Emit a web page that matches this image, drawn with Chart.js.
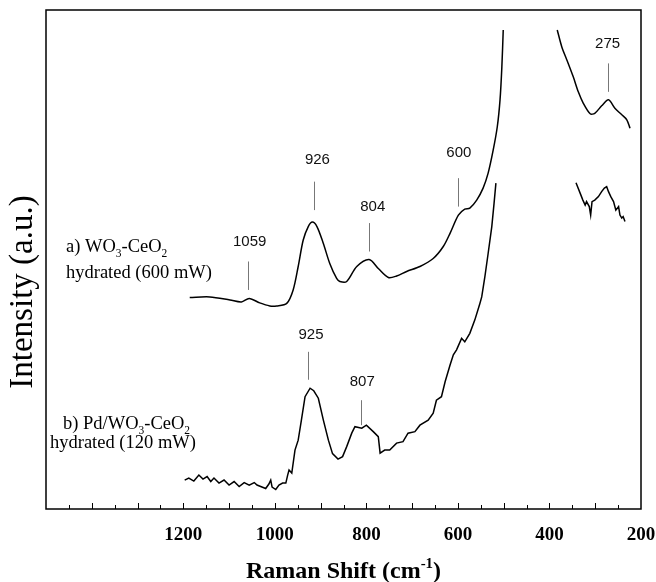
<!DOCTYPE html>
<html>
<head>
<meta charset="utf-8">
<title>Raman spectra</title>
<script src="https://cdn.jsdelivr.net/npm/chart.js@4.4.1/dist/chart.umd.min.js"></script>
<style>
  body { margin: 0; background: #fff; }
</style>
</head>
<body>
<canvas id="raman" width="656" height="582"></canvas>
<script>
// a) WO3-CeO2 hydrated (600 mW) - low-shift part cut off where it leaves the frame
const shiftA1 = [1186, 1142, 1098, 1073, 1056, 1033, 1011, 996, 974, 960, 949, 938, 927, 918, 908,
                 894, 880, 865, 858, 843, 821, 794, 774, 752, 734, 712, 683, 654, 632, 617,
                 599, 585, 574, 559, 545, 534, 523, 514, 508, 504, 501];
const intensityA1 = [42.4, 42.5, 41.9, 41.5, 42.2, 41.3, 40.7, 40.7, 41.2, 43.9, 48.6, 53.9, 56.6, 57.5, 56.6,
                     53.2, 49.2, 46.2, 45.6, 45.6, 48.6, 50.0, 48.2, 46.4, 46.7, 47.6, 48.6, 50.2, 52.6, 55.3,
                     58.9, 60.1, 60.3, 61.9, 64.3, 67.3, 71.9, 76.6, 82.0, 88.6, 96.0];
const shiftA2 = [383, 373, 362, 348, 337, 326, 311, 301, 286, 271, 257, 242, 231, 224];
const intensityA2 = [96.0, 92.6, 90.0, 86.6, 83.6, 81.3, 79.2, 79.3, 80.8, 82.0, 80.3, 79.0, 78.0, 76.3];

// b) Pd/WO3-CeO2 hydrated (120 mW)
const shiftB1 = [1197, 1188, 1177, 1166, 1157, 1148, 1140, 1133, 1122, 1111, 1100, 1089, 1078, 1067, 1056,
                 1045, 1039, 1031, 1020, 1013, 1009, 1006, 998, 991, 983, 976, 972, 969, 963, 956,
                 949, 942, 934, 923, 915, 905, 894, 883, 874, 862, 852, 843, 832, 825, 810,
                 800, 785, 774, 770, 760, 749, 734, 720, 709, 694, 683, 665, 654, 647, 636,
                 628, 617, 610, 603, 592, 585, 574, 563, 552, 548, 541, 534, 526, 521, 517];
const intensityB1 = [5.8, 6.2, 5.6, 6.8, 6.0, 6.5, 5.5, 6.2, 5.2, 5.8, 4.8, 5.5, 4.5, 5.3, 4.8,
                     5.3, 4.8, 4.5, 4.1, 5.0, 5.8, 4.4, 3.9, 4.8, 5.2, 5.2, 6.8, 7.8, 7.2, 11.8,
                     13.8, 17.8, 22.5, 24.2, 23.7, 22.2, 17.8, 13.8, 11.1, 10.0, 10.5, 12.5, 15.2, 16.5, 16.2,
                     16.8, 15.5, 14.5, 11.2, 11.8, 11.8, 13.2, 13.5, 15.2, 15.5, 16.8, 17.8, 19.2, 21.8, 22.5,
                     25.5, 28.9, 30.9, 31.9, 34.2, 33.5, 35.2, 37.9, 41.2, 42.5, 46.6, 51.2, 56.6, 61.3, 65.3];
const shiftB2 = [342, 333, 327, 322, 319, 313, 310, 307, 301, 293, 286, 280, 275, 271, 266,
                 260, 255, 249, 246, 242, 239, 235];
const intensityB2 = [65.4, 63.3, 61.9, 60.9, 61.6, 60.6, 58.9, 61.6, 61.9, 62.6, 63.6, 64.3, 64.6, 63.6, 62.6,
                     61.6, 59.9, 60.6, 58.9, 58.3, 58.6, 57.6];

// peak markers
const peakLabels = ['1059', '926', '804', '600', '275', '925', '807'];
const peakShift = [1058, 914, 795, 599, 272, 927, 812];
const peakTextShift = [1055, 907, 786, 598, 273, 921, 809];
const peakTextY = [53.6, 69.9, 60.6, 71.4, 93.3, 34.9, 25.5];
const peakLineTop = [49.6, 65.6, 57.3, 66.3, 89.3, 31.5, 21.8];
const peakLineBottom = [43.9, 59.9, 51.6, 60.6, 83.6, 25.9, 16.8];

const xTickValues = [1200, 1000, 800, 600, 400, 200];

const SERIF = '"Liberation Serif", "Times New Roman", serif';
const SANS = '"Liberation Sans", Arial, sans-serif';

function toPoints(xs, ys) {
    return xs.map((v, i) => ({ x: v, y: ys[i] }));
}

// text with sub/superscripts: parts = [[text, 0|-1|1]]
function drawParts(ctx, parts, x, y, size, weight) {
    ctx.textBaseline = 'alphabetic';
    ctx.textAlign = 'left';
    for (const [t, pos] of parts) {
        const s = pos ? size * 0.62 : size;
        ctx.font = (weight || '') + ' ' + s + 'px ' + SERIF;
        ctx.fillText(t, x, y + pos * size * (pos > 0 ? 0.25 : 0.42));
        x += ctx.measureText(t).width;
    }
}

function partsWidth(ctx, parts, size, weight) {
    let w = 0;
    for (const [t, pos] of parts) {
        const s = pos ? size * 0.62 : size;
        ctx.font = (weight || '') + ' ' + s + 'px ' + SERIF;
        w += ctx.measureText(t).width;
    }
    return w;
}

const ramanDecor = {
    id: 'ramanDecor',
    afterDatasetsDraw(chart) {
        const { ctx, chartArea: a, scales: { x, y } } = chart;
        ctx.save();
        ctx.fillStyle = '#000';

        // frame
        ctx.strokeStyle = '#000';
        ctx.lineWidth = 1.5;
        ctx.strokeRect(a.left, a.top, a.right - a.left, a.bottom - a.top);

        // inward ticks
        ctx.lineWidth = 1;
        for (let v = 250; v < 1500; v += 50) {
            const px = Math.round(x.getPixelForValue(v)) + 0.5;
            const len = v % 100 === 0 ? 6 : 4;
            ctx.beginPath();
            ctx.moveTo(px, a.bottom);
            ctx.lineTo(px, a.bottom - len);
            ctx.stroke();
        }

        // peak markers
        ctx.strokeStyle = '#777';
        ctx.lineWidth = 1;
        ctx.font = '15px ' + SANS;
        ctx.textAlign = 'center';
        ctx.textBaseline = 'middle';
        for (let i = 0; i < peakLabels.length; i++) {
            const px = Math.round(x.getPixelForValue(peakShift[i])) + 0.5;
            ctx.beginPath();
            ctx.moveTo(px, y.getPixelForValue(peakLineTop[i]));
            ctx.lineTo(px, y.getPixelForValue(peakLineBottom[i]));
            ctx.stroke();
            ctx.fillStyle = '#111';
            ctx.fillText(peakLabels[i], x.getPixelForValue(peakTextShift[i]), y.getPixelForValue(peakTextY[i]));
        }

        // sample labels
        ctx.fillStyle = '#000';
        drawParts(ctx, [['a) WO', 0], ['3', 1], ['-CeO', 0], ['2', 1]], 66, 252, 18.5);
        drawParts(ctx, [['hydrated (600 mW)', 0]], 66, 278, 18.5);
        drawParts(ctx, [['b) Pd/WO', 0], ['3', 1], ['-CeO', 0], ['2', 1]], 63, 429, 18.5);
        drawParts(ctx, [['hydrated (120 mW)', 0]], 50, 448, 18.5);

        // axis titles
        const xt = [['Raman Shift (cm', 0], ['-1', -1], [')', 0]];
        const w = partsWidth(ctx, xt, 24, 'bold');
        drawParts(ctx, xt, (a.left + a.right) / 2 - w / 2, 578, 24, 'bold');

        ctx.save();
        ctx.translate(23, 292);
        ctx.rotate(-Math.PI / 2);
        ctx.font = '33px ' + SERIF;
        ctx.textAlign = 'center';
        ctx.textBaseline = 'middle';
        ctx.fillText('Intensity (a.u.)', 0, 0);
        ctx.restore();

        ctx.restore();
    }
};

const lineStyle = { borderColor: '#000', borderWidth: 1.5, pointRadius: 0, fill: false };

new Chart(document.getElementById('raman').getContext('2d'), {
    type: 'line',
    data: {
        datasets: [
            Object.assign({ label: 'a', data: toPoints(shiftA1, intensityA1), tension: 0.3 }, lineStyle),
            Object.assign({ label: 'a', data: toPoints(shiftA2, intensityA2), tension: 0.3 }, lineStyle),
            Object.assign({ label: 'b', data: toPoints(shiftB1, intensityB1), tension: 0 }, lineStyle),
            Object.assign({ label: 'b', data: toPoints(shiftB2, intensityB2), tension: 0 }, lineStyle)
        ]
    },
    options: {
        responsive: false,
        animation: false,
        layout: { padding: { left: 46, right: 15, top: 10, bottom: 35 } },
        plugins: { legend: { display: false }, tooltip: { enabled: false } },
        scales: {
            x: {
                type: 'linear',
                min: 200,
                max: 1500,
                reverse: true,
                grid: { display: false, drawTicks: false },
                border: { display: false },
                afterBuildTicks: s => { s.ticks = xTickValues.map(v => ({ value: v })); },
                afterFit: s => { s.height = 38; s.paddingLeft = 0; s.paddingRight = 0; },
                ticks: {
                    color: '#000',
                    padding: 15,
                    maxRotation: 0,
                    autoSkip: false,
                    callback: v => String(v),
                    font: { family: SERIF, size: 19, weight: 'bold' }
                }
            },
            y: { display: false, min: 0, max: 100 }
        }
    },
    plugins: [ramanDecor]
});
</script>
</body>
</html>
